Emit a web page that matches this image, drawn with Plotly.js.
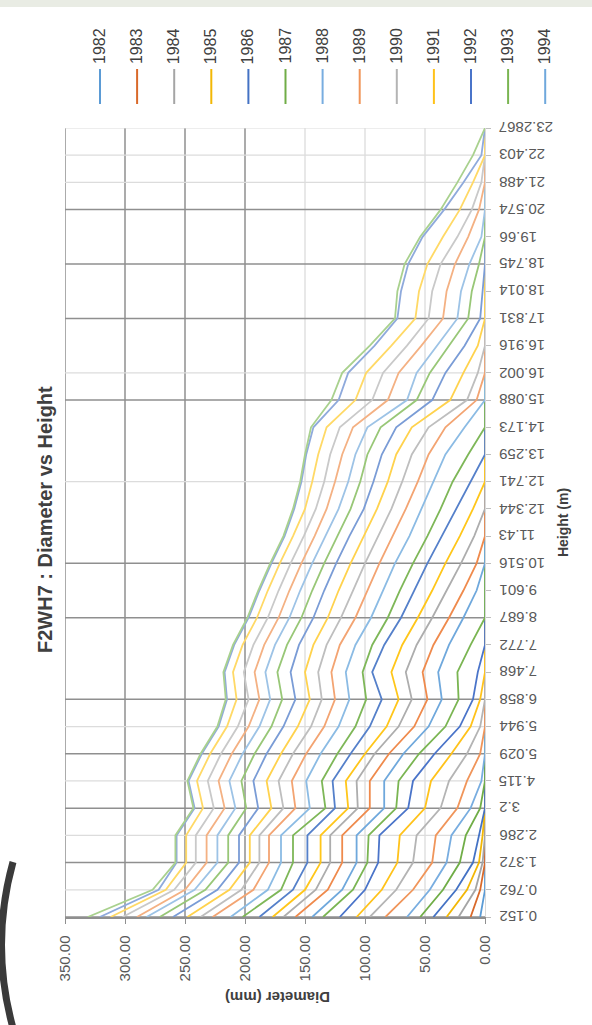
<!DOCTYPE html>
<html><head><meta charset="utf-8">
<script src="https://cdn.plot.ly/plotly-3.0.1.min.js"></script>
<style>html,body{margin:0;padding:0;background:#fff;} #chart{width:592px;height:1025px;}</style>
</head><body><div id="chart"></div>
<script>
// Height categories (m), bottom to top
const heights = ['0.152','0.762','1.372','2.286','3.2','4.115','5.029','5.944','6.858','7.468','7.772','8.687','9.601','10.516','11.43','12.344','12.741','13.259','14.173','15.088','16.002','16.916','17.831','18.014','18.745','19.66','20.574','21.488','22.403','23.2867'];

const years = [1982,1983,1984,1985,1986,1987,1988,1989,1990,1991,1992,1993,1994,1995,1996,1997,1998,1999,2000,2001,2002,2003,2004,2005,2006,2007,2008,2009,2010,2011];

// Diameter (mm) for each year, one value per height category
const d1982 = [4,0,0,0,0,0,0,0,0,0, 0,0,0,0,0,0,0,0,0,0, 0,0,0,0,0,0,0,0,0,0];
const d1983 = [12,4,0,0,0,0,0,0,0,0, 0,0,0,0,0,0,0,0,0,0, 0,0,0,0,0,0,0,0,0,0];
const d1984 = [22,8,2,0,0,0,0,0,0,0, 0,0,0,0,0,0,0,0,0,0, 0,0,0,0,0,0,0,0,0,0];
const d1985 = [32,15,5,2,0,0,0,0,0,0, 0,0,0,0,0,0,0,0,0,0, 0,0,0,0,0,0,0,0,0,0];
const d1986 = [43,24,10,5,0,0,0,0,0,0, 0,0,0,0,0,0,0,0,0,0, 0,0,0,0,0,0,0,0,0,0];
const d1987 = [54,35,21,16,4,0,0,0,0,0, 0,0,0,0,0,0,0,0,0,0, 0,0,0,0,0,0,0,0,0,0];
const d1988 = [65,46,32,28,12,3,0,0,0,0, 0,0,0,0,0,0,0,0,0,0, 0,0,0,0,0,0,0,0,0,0];
const d1989 = [83,60,44,41,23,15,4,0,0,0, 0,0,0,0,0,0,0,0,0,0, 0,0,0,0,0,0,0,0,0,0];
const d1990 = [96,74,60,57,37,30,15,4,0,0, 0,0,0,0,0,0,0,0,0,0, 0,0,0,0,0,0,0,0,0,0];
const d1991 = [107,86,73,71,50,45,28,12,4,0, 0,0,0,0,0,0,0,0,0,0, 0,0,0,0,0,0,0,0,0,0];
const d1992 = [121,100,89,88,64,60,42,21,10,6, 0,0,0,0,0,0,0,0,0,0, 0,0,0,0,0,0,0,0,0,0];
const d1993 = [135,110,98,97,74,72,55,33,22,23, 12,0,0,0,0,0,0,0,0,0, 0,0,0,0,0,0,0,0,0,0];
const d1994 = [144,119,107,107,84,84,68,47,36,39, 30,18,7,0,0,0,0,0,0,0, 0,0,0,0,0,0,0,0,0,0];
const d1995 = [158,131,119,119,96,96,80,59,48,52, 43,30,18,7,0,0,0,0,0,0, 0,0,0,0,0,0,0,0,0,0];
const d1996 = [168,141,129,129,106,107,92,72,61,66, 57,44,32,20,9,0,0,0,0,0, 0,0,0,0,0,0,0,0,0,0];
const d1997 = [177,150,137,137,114,116,100,82,72,78, 69,56,44,33,21,10,0,0,0,0, 0,0,0,0,0,0,0,0,0,0];
const d1998 = [188,160,148,148,125,127,112,96,86,94, 84,70,59,48,36,24,12,0,0,0, 0,0,0,0,0,0,0,0,0,0];
const d1999 = [202,170,160,160,133,136,123,108,99,102, 94,81,71,60,48,37,27,14,0,0, 0,0,0,0,0,0,0,0,0,0];
const d2000 = [212,181,170,170,146,149,137,122,113,116, 108,95,85,75,63,53,43,33,17,0, 0,0,0,0,0,0,0,0,0,0];
const d2001 = [227,193,180,180,158,161,149,134,125,128, 121,108,98,88,77,66,56,47,33,7, 0,0,0,0,0,0,0,0,0,0];
const d2002 = [237,203,188,188,168,172,160,145,136,139, 132,120,110,100,89,78,69,61,47,15, 6,0,0,0,0,0,0,0,0,0];
const d2003 = [248,213,196,196,178,182,170,156,146,150, 143,131,122,112,101,90,81,74,61,29, 18,6,0,0,0,0,0,0,0,0];
const d2004 = [260,223,205,205,189,193,182,168,158,162, 155,143,134,124,113,101,93,86,74,44, 33,17,4,2,0,0,0,0,0,0];
const d2005 = [271,233,214,214,199,203,192,178,169,173, 165,153,144,134,123,112,104,98,87,57, 46,30,14,11,5,0,0,0,0,0];
const d2006 = [282,242,223,223,208,213,202,188,179,183, 175,163,154,144,133,122,114,108,98,65, 57,40,23,20,13,3,0,0,0,0];
const d2007 = [290,250,232,232,217,222,211,197,188,192, 184,172,163,153,142,132,125,119,110,81, 72,53,35,32,25,14,5,0,0,0];
const d2008 = [302,259,241,241,226,231,220,206,197,201, 193,181,172,162,151,141,134,129,121,94, 85,65,47,44,37,23,11,3,0,0];
const d2009 = [312,266,249,249,235,240,229,215,207,210, 202,190,181,171,160,150,144,139,132,108, 99,78,58,55,48,35,21,10,0,0];
const d2010 = [321,272,257,257,242,247,236,222,215,217, 209,197,188,178,167,159,153,149,143,122, 114,92,73,70,64,52,34,18,3,0];
const d2011 = [331,277,258,258,243,248,237,223,216,218, 210,198,189,179,168,160,154,150,145,128, 119,96,75,73,67,54,37,23,10,0];

const seriesValues = [d1982,d1983,d1984,d1985,d1986,d1987,d1988,d1989,d1990,d1991,d1992,d1993,d1994,d1995,d1996,d1997,d1998,d1999,d2000,d2001,d2002,d2003,d2004,d2005,d2006,d2007,d2008,d2009,d2010,d2011];

const seriesColors = [
  '#5B9BD5','#D9692A','#A5A5A5','#F2B705','#4472C4','#70AD47',
  '#78ADE0','#F0955A','#B4B4B4','#FFC21A','#4A74C9','#7AB552',
  '#6FA8DC','#EF8A4C','#ADADAD','#FFC61A','#5580CA','#7EB758',
  '#8BBBE4','#F3A472','#BEBEBE','#FFD24D','#7A9CD6','#98C777',
  '#9DC3E6','#F4B183','#C9C9C9','#FFD966','#8FAADC','#A9D18E'
];

const legendCount = 13;
const diameterTicks = [0,50,100,150,200,250,300,350];
const diameterTickText = ['0.00','50.00','100.00','150.00','200.00','250.00','300.00','350.00'];
const darkDiameterGrid = [200,250,300,350];
const lightDiameterGrid = [50,100,150];
const darkHeightGrid = [0,2,4,6,8,11,13,19,22,24,26];
const lightHeightGrid = [1,3,5,7,16,20,27,28,29];

const traces = years.map((yr, i) => ({
  type: 'scatter', mode: 'lines',
  x: seriesValues[i], y: heights,
  name: String(yr),
  line: {color: seriesColors[i], width: 1.8},
  showlegend: false, hoverinfo: 'skip'
}));

// pixel -> paper helpers for decorations (plot area 65..485 x 128..917)
const px = p => (p - 65) / 420;
const py = p => (917 - p) / 789;

const shapes = [];
shapes.push({type:'rect', xref:'paper', yref:'paper', x0:px(0), x1:px(592), y0:py(7), y1:py(0), fillcolor:'#E9ECE4', line:{width:0}, layer:'below'});
shapes.push({type:'path', xref:'paper', yref:'paper', path:`M ${px(13)} ${py(862)} Q ${px(-10)} ${py(945)} ${px(13)} ${py(1028)}`, line:{color:'#3A3A3A', width:7}});
lightDiameterGrid.forEach(v => shapes.push({type:'line', xref:'x', yref:'paper', x0:v, x1:v, y0:0, y1:1, line:{color:'#D9D9D9', width:1.2}, layer:'below'}));
darkDiameterGrid.forEach(v => shapes.push({type:'line', xref:'x', yref:'paper', x0:v, x1:v, y0:0, y1:1, line:{color:'#8F8F8F', width:1.5}, layer:'below'}));
lightHeightGrid.forEach(v => shapes.push({type:'line', xref:'paper', yref:'y', x0:0, x1:1, y0:v, y1:v, line:{color:'#DCDCDC', width:1.2}, layer:'below'}));
darkHeightGrid.forEach(v => shapes.push({type:'line', xref:'paper', yref:'y', x0:0, x1:1, y0:v, y1:v, line:{color:'#8F8F8F', width:1.5}, layer:'below'}));

const annotations = [];
annotations.push({text:'<b>F2WH7 : Diameter vs Height</b>', textangle:-90, xref:'paper', yref:'paper', x:px(45), y:py(520), xanchor:'center', yanchor:'middle', showarrow:false, font:{size:20, color:'#404040'}});
annotations.push({text:'<b>Diameter (mm)</b>', textangle:180, xref:'paper', yref:'paper', x:px(278), y:py(998), xanchor:'center', yanchor:'middle', showarrow:false, font:{size:15, color:'#404040'}});

// height tick labels (upside down, as in the reference)
heights.forEach((h, i) => annotations.push({text:h, textangle:180, xref:'paper', yref:'y', x:px(497), y:i, xanchor:'left', yanchor:'middle', showarrow:false, font:{size:15, color:'#595959'}}));

for (let i = 0; i < legendCount; i++) {
  const xp = px(100 + 37.1 * i);
  shapes.push({type:'line', xref:'paper', yref:'paper', x0:xp, x1:xp, y0:py(104), y1:py(69), line:{color:seriesColors[i], width:2}});
  annotations.push({text:String(years[i]), textangle:-90, xref:'paper', yref:'paper', x:xp, y:py(66), xanchor:'center', yanchor:'bottom', showarrow:false, font:{size:16, color:'#404040'}});
}

const layout = {
  width: 592, height: 1025,
  margin: {l:65, r:107, t:128, b:108},
  paper_bgcolor: '#ffffff', plot_bgcolor: '#ffffff',
  showlegend: false,
  font: {family: 'Liberation Sans, Arial, sans-serif', color: '#595959'},
  xaxis: {
    range: [350, 0], tickmode: 'array', tickvals: diameterTicks, ticktext: diameterTickText,
    tickangle: -90, tickfont: {size: 15, color: '#595959'}, ticklabelstandoff: 6,
    showgrid: false, zeroline: false, showline: true, linecolor: '#8F8F8F', linewidth: 1.5,
    ticks: 'outside', ticklen: 5, tickcolor: '#8F8F8F', automargin: false
  },
  yaxis: {
    type: 'category', categoryorder: 'array', categoryarray: heights, range: [0, 29],
    side: 'right', showticklabels: false,
    showgrid: false, zeroline: false, showline: true, linecolor: '#D9D9D9',
    ticks: 'outside', ticklen: 5, tickcolor: '#BFBFBF', automargin: false,
    title: {text: '<b>Height (m)</b>', font: {size: 14, color: '#404040'}, standoff: 68}
  },
  shapes: shapes,
  annotations: annotations
};

Plotly.newPlot('chart', traces, layout, {staticPlot: true, displayModeBar: false});
</script>
</body></html>
